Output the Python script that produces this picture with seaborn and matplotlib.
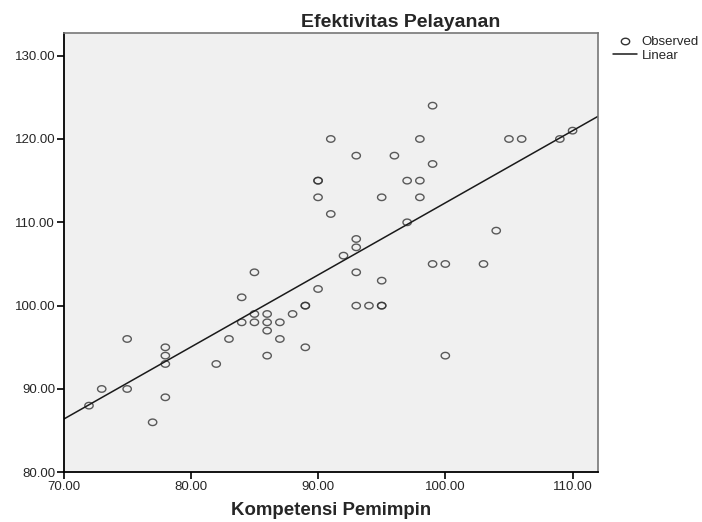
import matplotlib.pyplot as plt
import seaborn as sns
import numpy as np
import pandas as pd
from matplotlib.path import Path

# Data (duplicated pairs repeated)
kompetensi = [72, 73, 75, 75, 77, 78, 78, 78, 78, 82, 83, 84, 84, 85, 85, 85,
              86, 86, 86, 86, 87, 87, 88, 89, 89, 89, 90, 90, 90, 90, 91, 91,
              92, 93, 93, 93, 93, 93, 94, 95, 95, 95, 95, 96, 97, 97, 98, 98,
              98, 99, 99, 99, 100, 100, 103, 104, 105, 106, 109, 110]
efektivitas = [88, 90, 90, 96, 86, 89, 93, 94, 95, 93, 96, 101, 98, 104, 99, 98,
               99, 98, 97, 94, 98, 96, 99, 100, 100, 95, 115, 115, 113, 102, 120, 111,
               106, 118, 108, 107, 104, 100, 100, 113, 103, 100, 100, 118, 115, 110, 120, 115,
               113, 124, 117, 105, 105, 94, 105, 109, 120, 120, 120, 121]
x_ticks = [70, 80, 90, 100, 110]
y_ticks = [80, 90, 100, 110, 120, 130]

df = pd.DataFrame({"Kompetensi Pemimpin": kompetensi,
                   "Efektivitas Pelayanan": efektivitas})

sns.set_style("white")
plt.rcParams['font.family'] = ['Liberation Sans', 'DejaVu Sans']

# marker elips ala SPSS
t = np.linspace(0, 2 * np.pi, 41)
elips = Path(np.c_[np.cos(t), 0.78 * np.sin(t)], closed=True)

fig = plt.figure(figsize=(7.02, 5.22), dpi=100)
ax = fig.add_axes([0.0905, 0.0952, 0.7614, 0.8416])
ax.set_facecolor('#f0f0f0')
ax.set_xlim(70, 112.0)
ax.set_ylim(80, 132.72)

# garis regresi linear + titik observasi
sns.regplot(data=df, x="Kompetensi Pemimpin", y="Efektivitas Pelayanan", ax=ax,
            ci=None, truncate=False, marker=elips,
            scatter_kws=dict(s=36, facecolors='none', edgecolors='#333333', linewidths=1.0),
            line_kws=dict(color='#1a1a1a', lw=1.1))

ax.set_xticks(x_ticks)
ax.set_yticks(y_ticks)
ax.xaxis.set_major_formatter(plt.FormatStrFormatter('%.2f'))
ax.yaxis.set_major_formatter(plt.FormatStrFormatter('%.2f'))
ax.tick_params(axis='both', direction='out', length=5, width=1.2, color='black',
               labelsize=9.5, bottom=True, left=True, pad=1)

for s in ['left', 'bottom']:
    ax.spines[s].set_color('black')
    ax.spines[s].set_linewidth(1.3)
for s in ['top', 'right']:
    ax.spines[s].set_color('#777777')
    ax.spines[s].set_linewidth(1.2)

ax.set_title('Efektivitas Pelayanan', fontsize=14, fontweight='bold', pad=4, x=0.63)
ax.set_xlabel('Kompetensi Pemimpin', fontsize=13.4, fontweight='bold', labelpad=7)
ax.set_ylabel('')

# legend di luar area plot
handles = [plt.Line2D([], [], ls='none', marker=elips, markersize=6, markerfacecolor='none',
                      markeredgecolor='#333333'),
           plt.Line2D([], [], color='#1a1a1a', lw=1.1)]
fig.legend(handles, ['Observed', 'Linear'], loc='upper left', bbox_to_anchor=(0.873, 0.931),
           frameon=False, fontsize=9.5, handlelength=1.82, handletextpad=0.36,
           labelspacing=0.12, borderpad=0, borderaxespad=0)

fig.savefig('out.png', dpi=100)
